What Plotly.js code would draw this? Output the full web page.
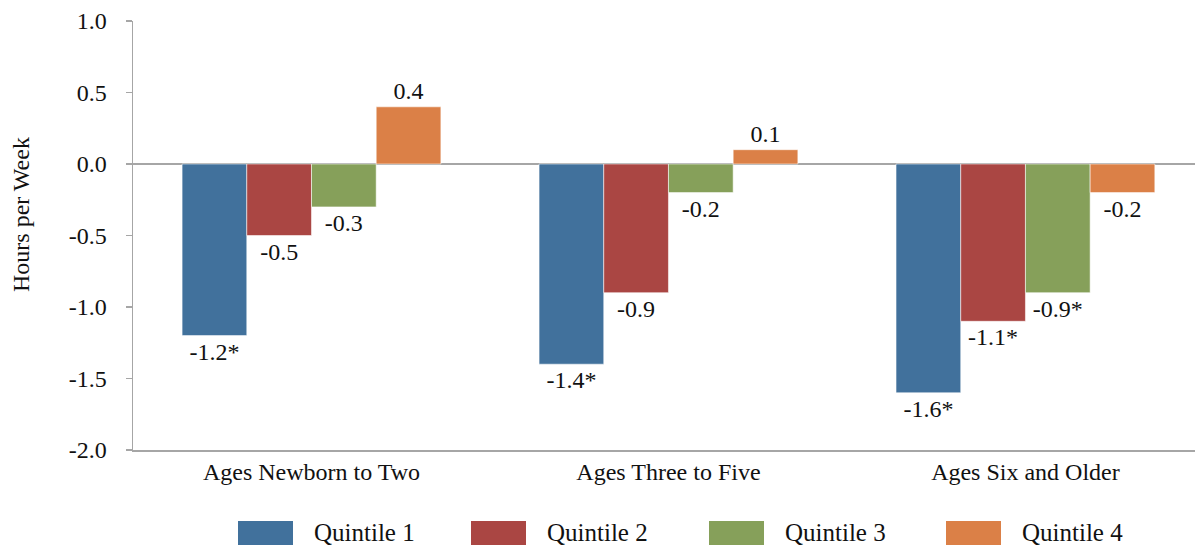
<!DOCTYPE html>
<html>
<head>
<meta charset="utf-8">
<script src="https://cdn.plot.ly/plotly-3.0.1.min.js"></script>
<style>
  html, body { margin: 0; padding: 0; background: #fff; }
  #chart { width: 1197px; height: 545px; }
</style>
</head>
<body>
<div id="chart"></div>
<script>
// ---- Data ----
var categories = ["Ages Newborn to Two", "Ages Three to Five", "Ages Six and Older"];
var seriesNames = ["Quintile 1", "Quintile 2", "Quintile 3", "Quintile 4"];
var q1 = [-1.2, -1.4, -1.6];
var q2 = [-0.5, -0.9, -1.1];
var q3 = [-0.3, -0.2, -0.9];
var q4 = [0.4, 0.1, -0.2];
var q1Labels = ["-1.2*", "-1.4*", "-1.6*"];
var q2Labels = ["-0.5", "-0.9", "-1.1*"];
var q3Labels = ["-0.3", "-0.2", "-0.9*"];
var q4Labels = ["0.4", "0.1", "-0.2"];
var yTickVals = [1.0, 0.5, 0.0, -0.5, -1.0, -1.5, -2.0];
var yTickText = ["1.0", "0.5", "0.0", "-0.5", "-1.0", "-1.5", "-2.0"];
var colors = ["#41719C", "#AA4643", "#86A05A", "#DB8047"];

var values = [q1, q2, q3, q4];
var labels = [q1Labels, q2Labels, q3Labels, q4Labels];
var FONT = "Liberation Serif";

var traces = seriesNames.map(function (name, i) {
  return {
    type: "bar",
    name: name,
    x: categories,
    y: values[i],
    text: labels[i],
    textposition: "outside",
    cliponaxis: false,
    textfont: { family: FONT, size: 24, color: "#111" },
    marker: { color: colors[i], line: { color: "rgba(255,255,255,0.55)", width: 1 } },
    showlegend: false,
    hoverinfo: "x+y"
  };
});

// plot area in pixels
var L = 133, R = 1195, T = 21, B = 450;
function px(x) { return (x - L) / (R - L); }
function py(y) { return (B - y) / (B - T); }

var legendSquares = [238, 471, 709, 946];
var shapes = [], annotations = [];
seriesNames.forEach(function (name, i) {
  var x0 = legendSquares[i];
  shapes.push({
    type: "rect", xref: "paper", yref: "paper",
    x0: px(x0), x1: px(x0 + 55), y0: py(521), y1: py(546),
    fillcolor: colors[i], line: { width: 0 }
  });
  annotations.push({
    xref: "paper", yref: "paper", x: px(x0 + 74), y: py(532),
    xanchor: "left", yanchor: "middle", showarrow: false,
    text: name, font: { family: FONT, size: 25, color: "#111" }
  });
});
annotations.push({
  xref: "paper", yref: "paper", x: px(21), y: py(215),
  xanchor: "center", yanchor: "middle", showarrow: false, textangle: -90,
  text: "Hours per Week", font: { family: FONT, size: 24, color: "#111" }
});

var layout = {
  width: 1197, height: 545,
  margin: { l: L, r: 1197 - R, t: T, b: 545 - B },
  paper_bgcolor: "#fff", plot_bgcolor: "#fff",
  barmode: "group", bargap: 0.275, bargroupgap: 0,
  font: { family: FONT, color: "#111" },
  xaxis: {
    range: [-0.5, 2.475],
    showline: true, linecolor: "#a6a6a6", linewidth: 1.5,
    ticks: "", showgrid: false, zeroline: false,
    tickfont: { family: FONT, size: 24, color: "#111" },
    ticklabelstandoff: 0
  },
  yaxis: {
    range: [-2, 1], tickvals: yTickVals, ticktext: yTickText,
    showline: true, linecolor: "#a6a6a6", linewidth: 1.5,
    ticks: "outside", ticklen: 6, tickcolor: "#a6a6a6", tickwidth: 1.5,
    showgrid: false, zeroline: true, zerolinecolor: "#a6a6a6", zerolinewidth: 1.5,
    tickfont: { family: FONT, size: 24, color: "#111" },
    ticklabelstandoff: 14
  },
  shapes: shapes,
  annotations: annotations
};

Plotly.newPlot("chart", traces, layout, { displayModeBar: false, staticPlot: true });
</script>
</body>
</html>
